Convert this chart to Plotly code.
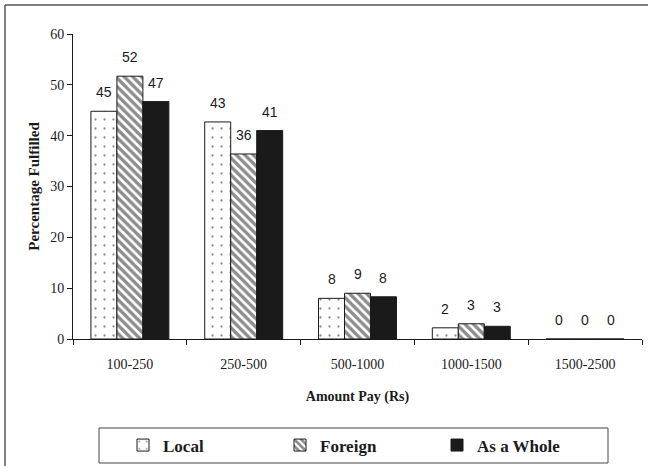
import plotly.graph_objects as go

categories = ["100-250", "250-500", "500-1000", "1000-1500", "1500-2500"]
local_vals = [44.8, 42.7, 8.0, 2.2, 0]
foreign_vals = [51.7, 36.4, 9.0, 3.0, 0]
whole_vals = [46.7, 41.0, 8.3, 2.5, 0]
local_labels = ["45", "43", "8", "2", "0"]
foreign_labels = ["52", "36", "9", "3", "0"]
whole_labels = ["47", "41", "8", "3", "0"]
series_names = ["Local", "Foreign", "As a Whole"]
y_ticks = [0, 10, 20, 30, 40, 50, 60]

W, H = 648, 466
ML, MR, MT, MB = 73, 6, 34, 127
PW = W - ML - MR
PH = H - MT - MB
BARGAP = 0.315

def px_x(p):
    return (p - ML) / PW

def px_y(q):
    return (H - MB - q) / PH

INK = "#1a1a1a"
serif = "Liberation Serif, Times New Roman, serif"
sans = "Liberation Sans, Arial, sans-serif"

fig = go.Figure()
series = [
    (local_vals, local_labels, dict(shape=".", fgcolor=INK, bgcolor="white", size=9, solidity=0.05, fillmode="overlay")),
    (foreign_vals, foreign_labels, dict(shape="\\", fgcolor=INK, bgcolor="white", size=6, solidity=0.55, fillmode="overlay")),
    (whole_vals, whole_labels, None),
]
for name, (vals, labels, pat) in zip(series_names, series):
    marker = dict(color="white" if pat else INK, line=dict(color=INK, width=1))
    if pat:
        marker["pattern"] = pat
    fig.add_trace(go.Bar(name=name, x=categories, y=vals, marker=marker, hoverinfo="skip"))

barw = PW / len(categories) * (1 - BARGAP) / 3
for i, (vals, labels, _) in enumerate(series):
    for c, v, t in zip(categories, vals, labels):
        fig.add_annotation(x=c, y=v, text=t, showarrow=False, xref="x", yref="y",
                           xshift=(i - 1) * barw, yshift=19, yanchor="middle",
                           font=dict(family=sans, size=14, color=INK))

shapes = [
    dict(type="line", xref="paper", yref="paper", x0=px_x(5), x1=px_x(648), y0=px_y(5), y1=px_y(5),
         line=dict(color="#555", width=1.5)),
    dict(type="line", xref="paper", yref="paper", x0=px_x(5), x1=px_x(5), y0=px_y(5), y1=px_y(466),
         line=dict(color="#555", width=1.5)),
    dict(type="rect", xref="paper", yref="paper", x0=px_x(99), x1=px_x(608), y0=px_y(428), y1=px_y(463),
         line=dict(color="#444", width=1)),
]

fig.update_layout(
    width=W, height=H,
    margin=dict(l=ML, r=MR, t=MT, b=MB, autoexpand=False),
    paper_bgcolor="white", plot_bgcolor="white",
    barmode="group", bargap=BARGAP, bargroupgap=0,
    hovermode=False,
    shapes=shapes,
    showlegend=True,
    legend=dict(orientation="h", x=px_x(123), xanchor="left", y=px_y(445.5), yanchor="middle",
                font=dict(family=serif, size=17, color=INK, weight="bold"),
                entrywidth=112, entrywidthmode="pixels", borderwidth=0, bgcolor="rgba(0,0,0,0)",
                traceorder="normal"),
    xaxis=dict(showline=True, linecolor=INK, linewidth=1, ticks="outside", ticklen=5, tickcolor=INK,
               tickson="boundaries", showgrid=False, ticklabelstandoff=12,
               tickfont=dict(family=serif, size=14, color=INK),
               title=dict(text="Amount Pay (Rs)", standoff=20,
                          font=dict(family=serif, size=14, color=INK, weight="bold"))),
    yaxis=dict(range=[0, 60], tickvals=y_ticks, showline=True, linecolor=INK, linewidth=1,
               ticks="outside", ticklen=5, tickcolor=INK, showgrid=False, zeroline=False,
               tickfont=dict(family=serif, size=14, color=INK),
               title=dict(text="Percentage Fulfilled", standoff=6,
                          font=dict(family=serif, size=15, color=INK, weight="bold"))),
)

fig.write_html("out.html", config={"displayModeBar": False, "staticPlot": True},
               post_script="document.body.style.margin='0px';document.body.style.overflow='hidden';")
